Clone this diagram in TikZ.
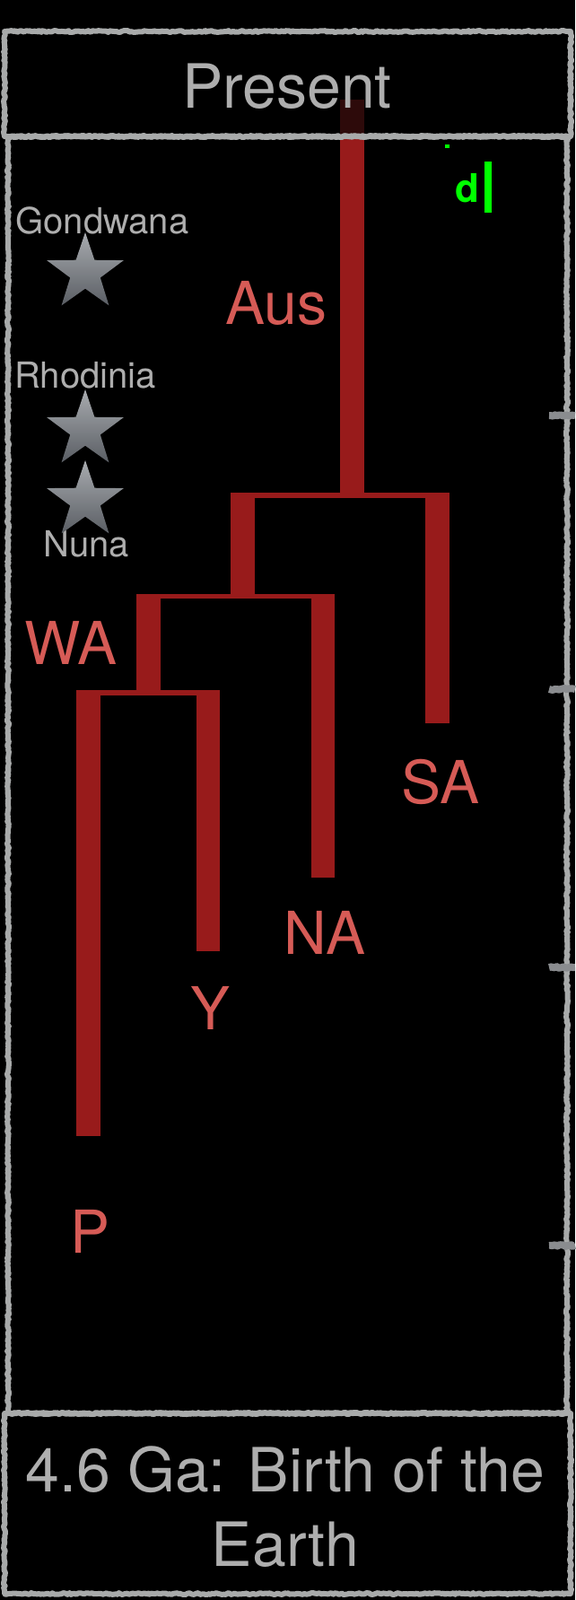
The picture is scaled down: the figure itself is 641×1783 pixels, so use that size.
\documentclass[tikz,border=0pt]{standalone}
\usepackage{fontspec}
\setmainfont{TeX Gyre Heros}
\usetikzlibrary{shapes.geometric,decorations.pathmorphing}
\definecolor{branch}{RGB}{152,27,27}
\definecolor{branchdark}{RGB}{45,10,10}
\definecolor{tipred}{RGB}{214,91,86}
\definecolor{chalk}{RGB}{168,170,170}
\definecolor{tickgrey}{RGB}{138,140,143}
\definecolor{greytext}{RGB}{174,174,174}
\definecolor{startop}{RGB}{168,171,175}
\definecolor{starbot}{RGB}{90,94,100}
\definecolor{cursor}{RGB}{0,255,0}

\begin{document}
\begin{tikzpicture}[x=1pt,y=-1pt,
        bar/.style={fill=branch},
        chalkline/.style={draw=chalk,line width=6pt,line join=round,line cap=round,decorate,
            decoration={random steps,segment length=2pt,amplitude=1pt}},
        tiplabel/.style={text=tipred,anchor=base,inner sep=0pt,
            font=\fontsize{66}{66}\selectfont},
        superlabel/.style={text=greytext,anchor=base,inner sep=0pt,
            font=\fontsize{40}{40}\selectfont},
        superstar/.style={star,star points=5,star point ratio=2.55,
            minimum size=90pt,inner sep=0pt,top color=startop,bottom color=starbot}]
        \useasboundingbox (0,0) rectangle (641,1783);
        \fill[black] (0,0) rectangle (641,1783);

        % tree
        \fill[branchdark] (379,111) rectangle (406,152);
        \fill[bar] (379,152) rectangle (406,555);
        \fill[bar] (257,549) rectangle (501,555);
        \fill[bar] (257,549) rectangle (284,662);
        \fill[bar] (474,549) rectangle (501,806);
        \fill[bar] (152,662) rectangle (373,667);
        \fill[bar] (152,662) rectangle (179,769);
        \fill[bar] (347,662) rectangle (373,978);
        \fill[bar] (85,769) rectangle (245,775);
        \fill[bar] (85,769) rectangle (112,1266);
        \fill[bar] (219,769) rectangle (245,1060);

        % frame
        \draw[chalkline] (5,35) rectangle (636,152);
        \draw[chalkline] (9,152) rectangle (632,1575);
        \draw[chalkline] (5,1575) rectangle (636,1776);
        \foreach \ty in {463,768,1078,1388}
            \draw[draw=tickgrey,line width=8pt,line join=round,decorate,
                decoration={random steps,segment length=2pt,amplitude=1pt}] (612,\ty) -- (641,\ty);

        \node[text=greytext,anchor=base,inner sep=0pt,font=\fontsize{68}{68}\selectfont] (present) at (320,120) {Present};
        \node[text=greytext,anchor=base,inner sep=0pt,align=center,font=\fontsize{68}{83}\selectfont] (birth) at (318,1745) {4.6 Ga: Birth of the\\Earth};

        % supercontinents
        \node[superlabel] (gondwana) at (114,260) {Gondwana};
        \node[superlabel] (rhodinia) at (95,432) {Rhodinia};
        \node[superlabel] (nuna) at (96,620) {Nuna};
        \node[superstar] (gondstar) at (95,304) {};
        \node[superstar] (rhodstar) at (95,479) {};
        \node[superstar] (nunastar) at (95,558) {};

        % tips
        \node[tiplabel] (aus) at (308,361) {Aus};
        \node[tiplabel] (wa) at (79,740) {WA};
        \node[tiplabel] (sa) at (491,895) {SA};
        \node[tiplabel] (na) at (362,1063) {NA};
        \node[tiplabel] (ylab) at (235,1147) {Y};
        \node[tiplabel] (plab) at (101,1396) {P};

        % cursor
        \fill[cursor] (496,161) rectangle (501,165);
        \node[text=cursor,anchor=base west,inner sep=0pt,font=\fontsize{44}{44}\selectfont\bfseries] (dmark) at (507,225) {d};
        \fill[cursor] (540,180) rectangle (548,237);
    \end{tikzpicture}
\end{document}
